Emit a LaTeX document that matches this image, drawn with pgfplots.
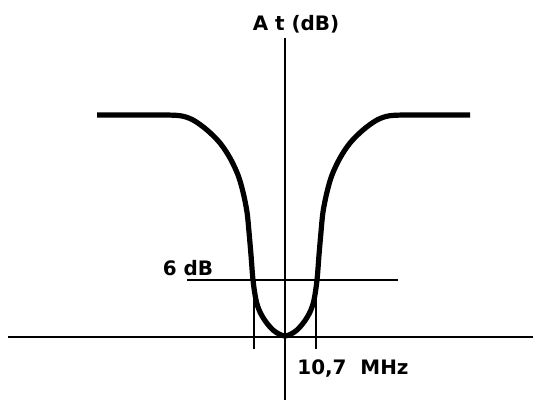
\documentclass[border=0pt]{standalone}
\usepackage{pgfplots}
\pgfplotsset{compat=1.18}
\usepackage{fontspec}
\setmainfont{DejaVu Sans}
\begin{document}
\begin{tikzpicture}
\begin{axis}[
  hide axis, scale only axis,
  width=268.5bp, height=201bp,
  xmin=0, xmax=537, ymin=0, ymax=402, y dir=reverse,
  clip=false,
]
% invisible frame to keep the full extent
\addplot[draw=none, line width=0pt] coordinates {(0,0) (537,402)};
% axes
\addplot[black, line width=1bp] coordinates {(8,337) (533,337)};
\addplot[black, line width=1bp] coordinates {(285,38) (285,400)};
% 6 dB line
\addplot[black, line width=0.9bp] coordinates {(187,280) (398,280)};
% markers
\addplot[black, line width=0.9bp] coordinates {(254,280) (254,349)};
\addplot[black, line width=0.9bp] coordinates {(316,280) (316,349)};
% response curve
\addplot[black, line width=2.6bp, smooth, tension=0.55] coordinates {
(97,115) (140,115) (160,115) (180,115.7) (193,120) (207,130) (220,143) (230,158)
(238,175) (243,192) (247,212) (249,232) (251,255) (253,280) (256,300) (260,312)
(266,322) (273,330) (279,334) (285,336)
(291,334) (297,330) (304,322) (310,312) (314,300) (317,280) (319,255) (321,232)
(323,212) (327,192) (332,175) (340,158) (350,143) (363,130) (377,120) (390,115.7)
(410,115) (430,115) (470,115)};
\node[font=\bfseries\fontsize{10}{12}\selectfont] at (axis cs:296,24) {A t (dB)};
\node[font=\bfseries\fontsize{10}{12}\selectfont] at (axis cs:188,268) {6 dB};
\node[font=\bfseries\fontsize{10}{12}\selectfont] at (axis cs:353,369) {10,7\ \ MHz};
\end{axis}
\end{tikzpicture}
\end{document}
